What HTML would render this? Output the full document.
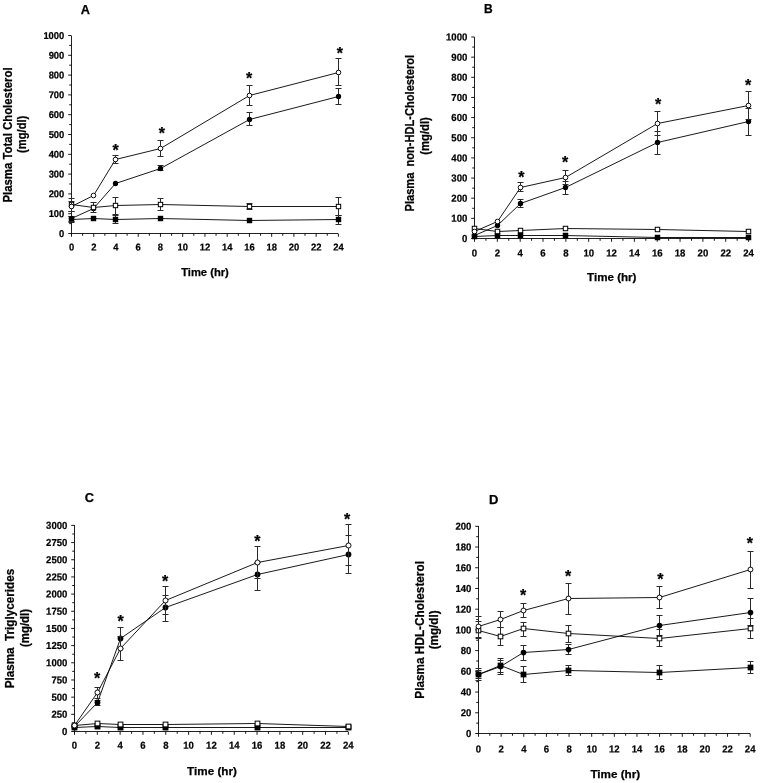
<!DOCTYPE html>
<html lang="en">
<head>
<meta charset="utf-8">
<title>Figure: plasma lipids time course</title>
<style>
html,body{margin:0;padding:0;background:#fff;}
body{width:763px;height:783px;overflow:hidden;}
svg{display:block;}
svg text{font-family:"Liberation Sans", Arial, Helvetica, sans-serif;font-weight:bold;fill:#000;stroke:#000;stroke-width:0.25px;}
svg .tk text{stroke-width:0.22px;}
</style>
</head>
<body>
<svg width="763" height="783" viewBox="0 0 763 783">
<rect width="763" height="783" fill="#fff"/>
<g id="panel-A">
<path d="M71.5 35.5V233.5H338.38" fill="none" stroke="#222" stroke-width="1.0" shape-rendering="crispEdges"/>
<path d="M71.5 233.5h-3.3M71.5 223.6h-2.3M71.5 213.7h-3.3M71.5 203.8h-2.3M71.5 193.9h-3.3M71.5 184h-2.3M71.5 174.1h-3.3M71.5 164.2h-2.3M71.5 154.3h-3.3M71.5 144.4h-2.3M71.5 134.5h-3.3M71.5 124.6h-2.3M71.5 114.7h-3.3M71.5 104.8h-2.3M71.5 94.9h-3.3M71.5 85h-2.3M71.5 75.1h-3.3M71.5 65.2h-2.3M71.5 55.3h-3.3M71.5 45.4h-2.3M71.5 35.5h-3.3M71.5 233.5v3.3M82.62 233.5v2.3M93.74 233.5v3.3M104.86 233.5v2.3M115.98 233.5v3.3M127.1 233.5v2.3M138.22 233.5v3.3M149.34 233.5v2.3M160.46 233.5v3.3M171.58 233.5v2.3M182.7 233.5v3.3M193.82 233.5v2.3M204.94 233.5v3.3M216.06 233.5v2.3M227.18 233.5v3.3M238.3 233.5v2.3M249.42 233.5v3.3M260.54 233.5v2.3M271.66 233.5v3.3M282.78 233.5v2.3M293.9 233.5v3.3M305.02 233.5v2.3M316.14 233.5v3.3M327.26 233.5v2.3M338.38 233.5v3.3" fill="none" stroke="#000" stroke-width="0.9"/>
<g font-size="9.4" text-anchor="end" class="tk">
<text transform="translate(64.3 236.93) rotate(0.05) scale(1 1.06)">0</text>
<text transform="translate(64.3 217.13) rotate(0.05) scale(1 1.06)">100</text>
<text transform="translate(64.3 197.33) rotate(0.05) scale(1 1.06)">200</text>
<text transform="translate(64.3 177.53) rotate(0.05) scale(1 1.06)">300</text>
<text transform="translate(64.3 157.73) rotate(0.05) scale(1 1.06)">400</text>
<text transform="translate(64.3 137.93) rotate(0.05) scale(1 1.06)">500</text>
<text transform="translate(64.3 118.13) rotate(0.05) scale(1 1.06)">600</text>
<text transform="translate(64.3 98.33) rotate(0.05) scale(1 1.06)">700</text>
<text transform="translate(64.3 78.53) rotate(0.05) scale(1 1.06)">800</text>
<text transform="translate(64.3 58.73) rotate(0.05) scale(1 1.06)">900</text>
<text transform="translate(64.3 38.93) rotate(0.05) scale(1 1.06)">1000</text>
</g>
<g font-size="9.4" text-anchor="middle" class="tk">
<text transform="translate(71.5 250.6) rotate(0.05) scale(1 1.06)">0</text>
<text transform="translate(93.74 250.6) rotate(0.05) scale(1 1.06)">2</text>
<text transform="translate(115.98 250.6) rotate(0.05) scale(1 1.06)">4</text>
<text transform="translate(138.22 250.6) rotate(0.05) scale(1 1.06)">6</text>
<text transform="translate(160.46 250.6) rotate(0.05) scale(1 1.06)">8</text>
<text transform="translate(182.7 250.6) rotate(0.05) scale(1 1.06)">10</text>
<text transform="translate(204.94 250.6) rotate(0.05) scale(1 1.06)">12</text>
<text transform="translate(227.18 250.6) rotate(0.05) scale(1 1.06)">14</text>
<text transform="translate(249.42 250.6) rotate(0.05) scale(1 1.06)">16</text>
<text transform="translate(271.66 250.6) rotate(0.05) scale(1 1.06)">18</text>
<text transform="translate(293.9 250.6) rotate(0.05) scale(1 1.06)">20</text>
<text transform="translate(316.14 250.6) rotate(0.05) scale(1 1.06)">22</text>
<text transform="translate(338.38 250.6) rotate(0.05) scale(1 1.06)">24</text>
</g>
<text x="205" y="276.2" font-size="11.2" text-anchor="middle">Time (hr)</text>
<text transform="translate(12.1 135) rotate(-90) scale(0.93 1)" font-size="12.25" text-anchor="middle">Plasma Total Cholesterol</text>
<text transform="translate(26.1 134.3) rotate(-90) scale(0.93 1)" font-size="12.04" text-anchor="middle">(mg/dl)</text>
<text x="80.7" y="13.5" font-size="12.7">A</text>
<path d="M71.5 219.5L93.5 218.5L115.5 219.5L160.5 218.5L249.5 220.5L338.5 219.5" fill="none" stroke="#000" stroke-width="0.9"/>
<path d="M71.5 216V223M68.5 216.5h6M68.5 222.5h6M115.5 215V224M112.5 215.5h6M112.5 223.5h6M338.5 215V225M335.5 215.5h6M335.5 224.5h6" fill="none" stroke="#2a2a2a" stroke-width="1.0"/>
<rect x="68.8" y="216.8" width="5.41" height="5.41" fill="#000"/>
<rect x="90.8" y="215.8" width="5.41" height="5.41" fill="#000"/>
<rect x="112.8" y="216.8" width="5.41" height="5.41" fill="#000"/>
<rect x="157.8" y="215.8" width="5.41" height="5.41" fill="#000"/>
<rect x="246.8" y="217.8" width="5.41" height="5.41" fill="#000"/>
<rect x="335.8" y="216.8" width="5.41" height="5.41" fill="#000"/>
<path d="M71.5 218.5L93.5 208.5L115.5 183.5L160.5 168.5L249.5 119.5L338.5 96.5" fill="none" stroke="#000" stroke-width="0.9"/>
<path d="M71.5 216V222M68.5 216.5h6M68.5 221.5h6M160.5 165V171M157.5 165.5h6M157.5 170.5h6M249.5 112V126M246.5 112.5h6M246.5 125.5h6M338.5 88V105M335.5 88.5h6M335.5 104.5h6" fill="none" stroke="#2a2a2a" stroke-width="1.0"/>
<circle cx="71.5" cy="218.5" r="2.65" fill="#000"/>
<circle cx="93.5" cy="208.5" r="2.65" fill="#000"/>
<circle cx="115.5" cy="183.5" r="2.65" fill="#000"/>
<circle cx="160.5" cy="168.5" r="2.65" fill="#000"/>
<circle cx="249.5" cy="119.5" r="2.65" fill="#000"/>
<circle cx="338.5" cy="96.5" r="2.65" fill="#000"/>
<path d="M71.5 204.5L93.5 207.5L115.5 205.5L160.5 204.5L249.5 206.5L338.5 206.5" fill="none" stroke="#000" stroke-width="0.9"/>
<path d="M71.5 198V212M68.5 198.5h6M68.5 211.5h6M93.5 202V213M90.5 202.5h6M90.5 212.5h6M115.5 197V215M112.5 197.5h6M112.5 214.5h6M160.5 198V211M157.5 198.5h6M157.5 210.5h6M249.5 203V210M246.5 203.5h6M246.5 209.5h6M338.5 197V216M335.5 197.5h6M335.5 215.5h6" fill="none" stroke="#2a2a2a" stroke-width="1.0"/>
<rect x="69.32" y="202.32" width="4.37" height="4.37" fill="#fff" stroke="#000" stroke-width="1"/>
<rect x="91.32" y="205.32" width="4.37" height="4.37" fill="#fff" stroke="#000" stroke-width="1"/>
<rect x="113.32" y="203.32" width="4.37" height="4.37" fill="#fff" stroke="#000" stroke-width="1"/>
<rect x="158.32" y="202.32" width="4.37" height="4.37" fill="#fff" stroke="#000" stroke-width="1"/>
<rect x="247.32" y="204.32" width="4.37" height="4.37" fill="#fff" stroke="#000" stroke-width="1"/>
<rect x="336.32" y="204.32" width="4.37" height="4.37" fill="#fff" stroke="#000" stroke-width="1"/>
<path d="M71.5 206.5L93.5 195.5L115.5 159.5L160.5 148.5L249.5 95.5L338.5 72.5" fill="none" stroke="#000" stroke-width="0.9"/>
<path d="M71.5 201V212M68.5 201.5h6M68.5 211.5h6M115.5 155V164M112.5 155.5h6M112.5 163.5h6M160.5 140V157M157.5 140.5h6M157.5 156.5h6M249.5 85V106M246.5 85.5h6M246.5 105.5h6M338.5 58V86M335.5 58.5h6M335.5 85.5h6" fill="none" stroke="#2a2a2a" stroke-width="1.0"/>
<rect x="69.26" y="204.26" width="4.47" height="4.47" rx="1.97" fill="#fff" stroke="#000" stroke-width="0.95"/>
<rect x="91.26" y="193.26" width="4.47" height="4.47" rx="1.97" fill="#fff" stroke="#000" stroke-width="0.95"/>
<rect x="113.26" y="157.26" width="4.47" height="4.47" rx="1.97" fill="#fff" stroke="#000" stroke-width="0.95"/>
<rect x="158.26" y="146.26" width="4.47" height="4.47" rx="1.97" fill="#fff" stroke="#000" stroke-width="0.95"/>
<rect x="247.26" y="93.26" width="4.47" height="4.47" rx="1.97" fill="#fff" stroke="#000" stroke-width="0.95"/>
<rect x="336.26" y="70.26" width="4.47" height="4.47" rx="1.97" fill="#fff" stroke="#000" stroke-width="0.95"/>
<g font-size="16" text-anchor="middle">
<text x="115.6" y="156">*</text>
<text x="161.8" y="139.1">*</text>
<text x="249.2" y="83.9">*</text>
<text x="339.9" y="59.4">*</text>
</g>
</g>
<g id="panel-B">
<path d="M474.5 37V238.5H748.58" fill="none" stroke="#222" stroke-width="1.0" shape-rendering="crispEdges"/>
<path d="M474.5 238.5h-3.3M474.5 228.43h-2.3M474.5 218.35h-3.3M474.5 208.28h-2.3M474.5 198.2h-3.3M474.5 188.12h-2.3M474.5 178.05h-3.3M474.5 167.97h-2.3M474.5 157.9h-3.3M474.5 147.82h-2.3M474.5 137.75h-3.3M474.5 127.67h-2.3M474.5 117.6h-3.3M474.5 107.53h-2.3M474.5 97.45h-3.3M474.5 87.38h-2.3M474.5 77.3h-3.3M474.5 67.22h-2.3M474.5 57.15h-3.3M474.5 47.07h-2.3M474.5 37h-3.3M474.5 238.5v3.3M485.92 238.5v2.3M497.34 238.5v3.3M508.76 238.5v2.3M520.18 238.5v3.3M531.6 238.5v2.3M543.02 238.5v3.3M554.44 238.5v2.3M565.86 238.5v3.3M577.28 238.5v2.3M588.7 238.5v3.3M600.12 238.5v2.3M611.54 238.5v3.3M622.96 238.5v2.3M634.38 238.5v3.3M645.8 238.5v2.3M657.22 238.5v3.3M668.64 238.5v2.3M680.06 238.5v3.3M691.48 238.5v2.3M702.9 238.5v3.3M714.32 238.5v2.3M725.74 238.5v3.3M737.16 238.5v2.3M748.58 238.5v3.3" fill="none" stroke="#000" stroke-width="0.9"/>
<g font-size="9.6" text-anchor="end" class="tk">
<text transform="translate(467.3 242) rotate(0.05) scale(1 1.06)">0</text>
<text transform="translate(467.3 221.85) rotate(0.05) scale(1 1.06)">100</text>
<text transform="translate(467.3 201.7) rotate(0.05) scale(1 1.06)">200</text>
<text transform="translate(467.3 181.55) rotate(0.05) scale(1 1.06)">300</text>
<text transform="translate(467.3 161.4) rotate(0.05) scale(1 1.06)">400</text>
<text transform="translate(467.3 141.25) rotate(0.05) scale(1 1.06)">500</text>
<text transform="translate(467.3 121.1) rotate(0.05) scale(1 1.06)">600</text>
<text transform="translate(467.3 100.95) rotate(0.05) scale(1 1.06)">700</text>
<text transform="translate(467.3 80.8) rotate(0.05) scale(1 1.06)">800</text>
<text transform="translate(467.3 60.65) rotate(0.05) scale(1 1.06)">900</text>
<text transform="translate(467.3 40.5) rotate(0.05) scale(1 1.06)">1000</text>
</g>
<g font-size="9.6" text-anchor="middle" class="tk">
<text transform="translate(474.5 256.6) rotate(0.05) scale(1 1.06)">0</text>
<text transform="translate(497.34 256.6) rotate(0.05) scale(1 1.06)">2</text>
<text transform="translate(520.18 256.6) rotate(0.05) scale(1 1.06)">4</text>
<text transform="translate(543.02 256.6) rotate(0.05) scale(1 1.06)">6</text>
<text transform="translate(565.86 256.6) rotate(0.05) scale(1 1.06)">8</text>
<text transform="translate(588.7 256.6) rotate(0.05) scale(1 1.06)">10</text>
<text transform="translate(611.54 256.6) rotate(0.05) scale(1 1.06)">12</text>
<text transform="translate(634.38 256.6) rotate(0.05) scale(1 1.06)">14</text>
<text transform="translate(657.22 256.6) rotate(0.05) scale(1 1.06)">16</text>
<text transform="translate(680.06 256.6) rotate(0.05) scale(1 1.06)">18</text>
<text transform="translate(702.9 256.6) rotate(0.05) scale(1 1.06)">20</text>
<text transform="translate(725.74 256.6) rotate(0.05) scale(1 1.06)">22</text>
<text transform="translate(748.58 256.6) rotate(0.05) scale(1 1.06)">24</text>
</g>
<text x="611.8" y="281.2" font-size="11.6" text-anchor="middle">Time (hr)</text>
<text transform="translate(414 133.2) rotate(-90) scale(0.93 1)" font-size="11.93" text-anchor="middle">Plasma  non-HDL-Cholesterol</text>
<text transform="translate(429.3 136) rotate(-90) scale(0.93 1)" font-size="12.15" text-anchor="middle">(mg/dl)</text>
<text x="484" y="13.2" font-size="12">B</text>
<path d="M474.5 236.5L497.5 235.5L520.5 235.5L565.5 235.5L657.5 237.5L748.5 237.5" fill="none" stroke="#000" stroke-width="0.9"/>
<rect x="471.74" y="233.74" width="5.51" height="5.51" fill="#000"/>
<rect x="494.74" y="232.74" width="5.51" height="5.51" fill="#000"/>
<rect x="517.74" y="232.74" width="5.51" height="5.51" fill="#000"/>
<rect x="562.74" y="232.74" width="5.51" height="5.51" fill="#000"/>
<rect x="654.74" y="234.74" width="5.51" height="5.51" fill="#000"/>
<rect x="745.74" y="234.74" width="5.51" height="5.51" fill="#000"/>
<path d="M474.5 235.5L497.5 225.5L520.5 203.5L565.5 187.5L657.5 142.5L748.5 121.5" fill="none" stroke="#000" stroke-width="0.9"/>
<path d="M520.5 199V208M517.5 199.5h6M517.5 207.5h6M565.5 181V195M562.5 181.5h6M562.5 194.5h6M657.5 131V155M654.5 131.5h6M654.5 154.5h6M748.5 108V136M745.5 108.5h6M745.5 135.5h6" fill="none" stroke="#2a2a2a" stroke-width="1.0"/>
<circle cx="474.5" cy="235.5" r="2.7" fill="#000"/>
<circle cx="497.5" cy="225.5" r="2.7" fill="#000"/>
<circle cx="520.5" cy="203.5" r="2.7" fill="#000"/>
<circle cx="565.5" cy="187.5" r="2.7" fill="#000"/>
<circle cx="657.5" cy="142.5" r="2.7" fill="#000"/>
<circle cx="748.5" cy="121.5" r="2.7" fill="#000"/>
<path d="M474.5 228.5L497.5 231.5L520.5 230.5L565.5 228.5L657.5 229.5L748.5 231.5" fill="none" stroke="#000" stroke-width="0.9"/>
<rect x="472.27" y="226.27" width="4.45" height="4.45" fill="#fff" stroke="#000" stroke-width="1"/>
<rect x="495.27" y="229.27" width="4.45" height="4.45" fill="#fff" stroke="#000" stroke-width="1"/>
<rect x="518.27" y="228.27" width="4.45" height="4.45" fill="#fff" stroke="#000" stroke-width="1"/>
<rect x="563.27" y="226.27" width="4.45" height="4.45" fill="#fff" stroke="#000" stroke-width="1"/>
<rect x="655.27" y="227.27" width="4.45" height="4.45" fill="#fff" stroke="#000" stroke-width="1"/>
<rect x="746.27" y="229.27" width="4.45" height="4.45" fill="#fff" stroke="#000" stroke-width="1"/>
<path d="M474.5 231.5L497.5 221.5L520.5 187.5L565.5 177.5L657.5 123.5L748.5 105.5" fill="none" stroke="#000" stroke-width="0.9"/>
<path d="M520.5 182V192M517.5 182.5h6M517.5 191.5h6M565.5 170V185M562.5 170.5h6M562.5 184.5h6M657.5 111V136M654.5 111.5h6M654.5 135.5h6M748.5 91V120M745.5 91.5h6M745.5 119.5h6" fill="none" stroke="#2a2a2a" stroke-width="1.0"/>
<rect x="472.22" y="229.22" width="4.56" height="4.56" rx="2.01" fill="#fff" stroke="#000" stroke-width="0.95"/>
<rect x="495.22" y="219.22" width="4.56" height="4.56" rx="2.01" fill="#fff" stroke="#000" stroke-width="0.95"/>
<rect x="518.22" y="185.22" width="4.56" height="4.56" rx="2.01" fill="#fff" stroke="#000" stroke-width="0.95"/>
<rect x="563.22" y="175.22" width="4.56" height="4.56" rx="2.01" fill="#fff" stroke="#000" stroke-width="0.95"/>
<rect x="655.22" y="121.22" width="4.56" height="4.56" rx="2.01" fill="#fff" stroke="#000" stroke-width="0.95"/>
<rect x="746.22" y="103.22" width="4.56" height="4.56" rx="2.01" fill="#fff" stroke="#000" stroke-width="0.95"/>
<g font-size="16" text-anchor="middle">
<text x="521.3" y="183.2">*</text>
<text x="565.1" y="167.5">*</text>
<text x="658" y="109.5">*</text>
<text x="748" y="90.5">*</text>
</g>
</g>
<g id="panel-C">
<path d="M74.5 525.4V731.5H348.34" fill="none" stroke="#222" stroke-width="1.0" shape-rendering="crispEdges"/>
<path d="M74.5 731.5h-3.3M74.5 722.91h-2.3M74.5 714.33h-3.3M74.5 705.74h-2.3M74.5 697.15h-3.3M74.5 688.56h-2.3M74.5 679.98h-3.3M74.5 671.39h-2.3M74.5 662.8h-3.3M74.5 654.21h-2.3M74.5 645.62h-3.3M74.5 637.04h-2.3M74.5 628.45h-3.3M74.5 619.86h-2.3M74.5 611.27h-3.3M74.5 602.69h-2.3M74.5 594.1h-3.3M74.5 585.51h-2.3M74.5 576.92h-3.3M74.5 568.34h-2.3M74.5 559.75h-3.3M74.5 551.16h-2.3M74.5 542.57h-3.3M74.5 533.99h-2.3M74.5 525.4h-3.3M74.5 731.5v3.3M85.91 731.5v2.3M97.32 731.5v3.3M108.73 731.5v2.3M120.14 731.5v3.3M131.55 731.5v2.3M142.96 731.5v3.3M154.37 731.5v2.3M165.78 731.5v3.3M177.19 731.5v2.3M188.6 731.5v3.3M200.01 731.5v2.3M211.42 731.5v3.3M222.83 731.5v2.3M234.24 731.5v3.3M245.65 731.5v2.3M257.06 731.5v3.3M268.47 731.5v2.3M279.88 731.5v3.3M291.29 731.5v2.3M302.7 731.5v3.3M314.11 731.5v2.3M325.52 731.5v3.3M336.93 731.5v2.3M348.34 731.5v3.3" fill="none" stroke="#000" stroke-width="0.9"/>
<g font-size="9.55" text-anchor="end" class="tk">
<text transform="translate(67.3 734.99) rotate(0.05) scale(1 1.06)">0</text>
<text transform="translate(67.3 717.81) rotate(0.05) scale(1 1.06)">250</text>
<text transform="translate(67.3 700.64) rotate(0.05) scale(1 1.06)">500</text>
<text transform="translate(67.3 683.46) rotate(0.05) scale(1 1.06)">750</text>
<text transform="translate(67.3 666.29) rotate(0.05) scale(1 1.06)">1000</text>
<text transform="translate(67.3 649.11) rotate(0.05) scale(1 1.06)">1250</text>
<text transform="translate(67.3 631.94) rotate(0.05) scale(1 1.06)">1500</text>
<text transform="translate(67.3 614.76) rotate(0.05) scale(1 1.06)">1750</text>
<text transform="translate(67.3 597.59) rotate(0.05) scale(1 1.06)">2000</text>
<text transform="translate(67.3 580.41) rotate(0.05) scale(1 1.06)">2250</text>
<text transform="translate(67.3 563.24) rotate(0.05) scale(1 1.06)">2500</text>
<text transform="translate(67.3 546.06) rotate(0.05) scale(1 1.06)">2750</text>
<text transform="translate(67.3 528.89) rotate(0.05) scale(1 1.06)">3000</text>
</g>
<g font-size="9.55" text-anchor="middle" class="tk">
<text transform="translate(74.5 748.8) rotate(0.05) scale(1 1.06)">0</text>
<text transform="translate(97.32 748.8) rotate(0.05) scale(1 1.06)">2</text>
<text transform="translate(120.14 748.8) rotate(0.05) scale(1 1.06)">4</text>
<text transform="translate(142.96 748.8) rotate(0.05) scale(1 1.06)">6</text>
<text transform="translate(165.78 748.8) rotate(0.05) scale(1 1.06)">8</text>
<text transform="translate(188.6 748.8) rotate(0.05) scale(1 1.06)">10</text>
<text transform="translate(211.42 748.8) rotate(0.05) scale(1 1.06)">12</text>
<text transform="translate(234.24 748.8) rotate(0.05) scale(1 1.06)">14</text>
<text transform="translate(257.06 748.8) rotate(0.05) scale(1 1.06)">16</text>
<text transform="translate(279.88 748.8) rotate(0.05) scale(1 1.06)">18</text>
<text transform="translate(302.7 748.8) rotate(0.05) scale(1 1.06)">20</text>
<text transform="translate(325.52 748.8) rotate(0.05) scale(1 1.06)">22</text>
<text transform="translate(348.34 748.8) rotate(0.05) scale(1 1.06)">24</text>
</g>
<text x="212" y="774.7" font-size="11.7" text-anchor="middle">Time (hr)</text>
<text transform="translate(14.2 628.6) rotate(-90) scale(0.93 1)" font-size="12.58" text-anchor="middle">Plasma  Triglycerides</text>
<text transform="translate(29.4 628) rotate(-90) scale(0.93 1)" font-size="12.25" text-anchor="middle">(mg/dl)</text>
<text x="84.8" y="501.6" font-size="12.8">C</text>
<path d="M74.5 727.5L97.5 726.5L120.5 727.5L165.5 727.5L257.5 727.5L348.5 727.5" fill="none" stroke="#000" stroke-width="0.9"/>
<rect x="71.56" y="724.56" width="5.88" height="5.88" fill="#000"/>
<rect x="94.56" y="723.56" width="5.88" height="5.88" fill="#000"/>
<rect x="117.56" y="724.56" width="5.88" height="5.88" fill="#000"/>
<rect x="162.56" y="724.56" width="5.88" height="5.88" fill="#000"/>
<rect x="254.56" y="724.56" width="5.88" height="5.88" fill="#000"/>
<rect x="345.56" y="724.56" width="5.88" height="5.88" fill="#000"/>
<path d="M74.5 726.5L97.5 702.5L120.5 638.5L165.5 607.5L257.5 574.5L348.5 554.5" fill="none" stroke="#000" stroke-width="0.9"/>
<path d="M97.5 700V706M94.5 700.5h6M94.5 705.5h6M120.5 627V649M117.5 627.5h6M117.5 648.5h6M165.5 595V622M162.5 595.5h6M162.5 621.5h6M257.5 562V591M254.5 562.5h6M254.5 590.5h6M348.5 535V574M345.5 535.5h6M345.5 573.5h6" fill="none" stroke="#2a2a2a" stroke-width="1.0"/>
<circle cx="74.5" cy="726.5" r="2.88" fill="#000"/>
<circle cx="97.5" cy="702.5" r="2.88" fill="#000"/>
<circle cx="120.5" cy="638.5" r="2.88" fill="#000"/>
<circle cx="165.5" cy="607.5" r="2.88" fill="#000"/>
<circle cx="257.5" cy="574.5" r="2.88" fill="#000"/>
<circle cx="348.5" cy="554.5" r="2.88" fill="#000"/>
<path d="M74.5 725.5L97.5 723.5L120.5 724.5L165.5 724.5L257.5 723.5L348.5 726.5" fill="none" stroke="#000" stroke-width="0.9"/>
<rect x="72.13" y="723.13" width="4.75" height="4.75" fill="#fff" stroke="#000" stroke-width="1"/>
<rect x="95.13" y="721.13" width="4.75" height="4.75" fill="#fff" stroke="#000" stroke-width="1"/>
<rect x="118.13" y="722.13" width="4.75" height="4.75" fill="#fff" stroke="#000" stroke-width="1"/>
<rect x="163.13" y="722.13" width="4.75" height="4.75" fill="#fff" stroke="#000" stroke-width="1"/>
<rect x="255.13" y="721.13" width="4.75" height="4.75" fill="#fff" stroke="#000" stroke-width="1"/>
<rect x="346.13" y="724.13" width="4.75" height="4.75" fill="#fff" stroke="#000" stroke-width="1"/>
<path d="M74.5 725.5L97.5 692.5L120.5 648.5L165.5 600.5L257.5 562.5L348.5 545.5" fill="none" stroke="#000" stroke-width="0.9"/>
<path d="M97.5 687V699M94.5 687.5h6M94.5 698.5h6M120.5 636V661M117.5 636.5h6M117.5 660.5h6M165.5 586V615M162.5 586.5h6M162.5 614.5h6M257.5 546V579M254.5 546.5h6M254.5 578.5h6M348.5 524V566M345.5 524.5h6M345.5 565.5h6" fill="none" stroke="#2a2a2a" stroke-width="1.0"/>
<rect x="72.07" y="723.07" width="4.86" height="4.86" rx="2.14" fill="#fff" stroke="#000" stroke-width="0.95"/>
<rect x="95.07" y="690.07" width="4.86" height="4.86" rx="2.14" fill="#fff" stroke="#000" stroke-width="0.95"/>
<rect x="118.07" y="646.07" width="4.86" height="4.86" rx="2.14" fill="#fff" stroke="#000" stroke-width="0.95"/>
<rect x="163.07" y="598.07" width="4.86" height="4.86" rx="2.14" fill="#fff" stroke="#000" stroke-width="0.95"/>
<rect x="255.07" y="560.07" width="4.86" height="4.86" rx="2.14" fill="#fff" stroke="#000" stroke-width="0.95"/>
<rect x="346.07" y="543.07" width="4.86" height="4.86" rx="2.14" fill="#fff" stroke="#000" stroke-width="0.95"/>
<g font-size="16" text-anchor="middle">
<text x="97" y="684.2">*</text>
<text x="120.6" y="627.4">*</text>
<text x="165.2" y="586.6">*</text>
<text x="257.3" y="546.7">*</text>
<text x="347.2" y="524.7">*</text>
</g>
</g>
<g id="panel-D">
<path d="M478.5 526.3V733.5H750.18" fill="none" stroke="#222" stroke-width="1.0" shape-rendering="crispEdges"/>
<path d="M478.5 733.5h-3.3M478.5 723.14h-2.3M478.5 712.78h-3.3M478.5 702.42h-2.3M478.5 692.06h-3.3M478.5 681.7h-2.3M478.5 671.34h-3.3M478.5 660.98h-2.3M478.5 650.62h-3.3M478.5 640.26h-2.3M478.5 629.9h-3.3M478.5 619.54h-2.3M478.5 609.18h-3.3M478.5 598.82h-2.3M478.5 588.46h-3.3M478.5 578.1h-2.3M478.5 567.74h-3.3M478.5 557.38h-2.3M478.5 547.02h-3.3M478.5 536.66h-2.3M478.5 526.3h-3.3M478.5 733.5v3.3M489.82 733.5v2.3M501.14 733.5v3.3M512.46 733.5v2.3M523.78 733.5v3.3M535.1 733.5v2.3M546.42 733.5v3.3M557.74 733.5v2.3M569.06 733.5v3.3M580.38 733.5v2.3M591.7 733.5v3.3M603.02 733.5v2.3M614.34 733.5v3.3M625.66 733.5v2.3M636.98 733.5v3.3M648.3 733.5v2.3M659.62 733.5v3.3M670.94 733.5v2.3M682.26 733.5v3.3M693.58 733.5v2.3M704.9 733.5v3.3M716.22 733.5v2.3M727.54 733.5v3.3M738.86 733.5v2.3M750.18 733.5v3.3" fill="none" stroke="#000" stroke-width="0.9"/>
<g font-size="9.55" text-anchor="end" class="tk">
<text transform="translate(471.3 736.99) rotate(0.05) scale(1 1.06)">0</text>
<text transform="translate(471.3 716.27) rotate(0.05) scale(1 1.06)">20</text>
<text transform="translate(471.3 695.55) rotate(0.05) scale(1 1.06)">40</text>
<text transform="translate(471.3 674.83) rotate(0.05) scale(1 1.06)">60</text>
<text transform="translate(471.3 654.11) rotate(0.05) scale(1 1.06)">80</text>
<text transform="translate(471.3 633.39) rotate(0.05) scale(1 1.06)">100</text>
<text transform="translate(471.3 612.67) rotate(0.05) scale(1 1.06)">120</text>
<text transform="translate(471.3 591.95) rotate(0.05) scale(1 1.06)">140</text>
<text transform="translate(471.3 571.23) rotate(0.05) scale(1 1.06)">160</text>
<text transform="translate(471.3 550.51) rotate(0.05) scale(1 1.06)">180</text>
<text transform="translate(471.3 529.79) rotate(0.05) scale(1 1.06)">200</text>
</g>
<g font-size="9.55" text-anchor="middle" class="tk">
<text transform="translate(478.5 752.4) rotate(0.05) scale(1 1.06)">0</text>
<text transform="translate(501.14 752.4) rotate(0.05) scale(1 1.06)">2</text>
<text transform="translate(523.78 752.4) rotate(0.05) scale(1 1.06)">4</text>
<text transform="translate(546.42 752.4) rotate(0.05) scale(1 1.06)">6</text>
<text transform="translate(569.06 752.4) rotate(0.05) scale(1 1.06)">8</text>
<text transform="translate(591.7 752.4) rotate(0.05) scale(1 1.06)">10</text>
<text transform="translate(614.34 752.4) rotate(0.05) scale(1 1.06)">12</text>
<text transform="translate(636.98 752.4) rotate(0.05) scale(1 1.06)">14</text>
<text transform="translate(659.62 752.4) rotate(0.05) scale(1 1.06)">16</text>
<text transform="translate(682.26 752.4) rotate(0.05) scale(1 1.06)">18</text>
<text transform="translate(704.9 752.4) rotate(0.05) scale(1 1.06)">20</text>
<text transform="translate(727.54 752.4) rotate(0.05) scale(1 1.06)">22</text>
<text transform="translate(750.18 752.4) rotate(0.05) scale(1 1.06)">24</text>
</g>
<text x="615.3" y="778.3" font-size="11.7" text-anchor="middle">Time (hr)</text>
<text transform="translate(424.4 629.9) rotate(-90) scale(0.93 1)" font-size="12.69" text-anchor="middle">Plasma HDL-Cholesterol</text>
<text transform="translate(438 629.9) rotate(-90) scale(0.93 1)" font-size="12.58" text-anchor="middle">(mg/dl)</text>
<text x="489" y="503.7" font-size="13">D</text>
<path d="M478.5 674.5L500.5 665.5L523.5 674.5L568.5 670.5L659.5 672.5L750.5 667.5" fill="none" stroke="#000" stroke-width="0.9"/>
<path d="M478.5 668V681M475.5 668.5h6M475.5 680.5h6M500.5 660V673M497.5 660.5h6M497.5 672.5h6M523.5 666V683M520.5 666.5h6M520.5 682.5h6M568.5 665V676M565.5 665.5h6M565.5 675.5h6M659.5 665V680M656.5 665.5h6M656.5 679.5h6M750.5 661V674M747.5 661.5h6M747.5 673.5h6" fill="none" stroke="#2a2a2a" stroke-width="1.0"/>
<rect x="475.64" y="671.64" width="5.72" height="5.72" fill="#000"/>
<rect x="497.64" y="662.64" width="5.72" height="5.72" fill="#000"/>
<rect x="520.64" y="671.64" width="5.72" height="5.72" fill="#000"/>
<rect x="565.64" y="667.64" width="5.72" height="5.72" fill="#000"/>
<rect x="656.64" y="669.64" width="5.72" height="5.72" fill="#000"/>
<rect x="747.64" y="664.64" width="5.72" height="5.72" fill="#000"/>
<path d="M478.5 674.5L500.5 666.5L523.5 652.5L568.5 649.5L659.5 625.5L750.5 612.5" fill="none" stroke="#000" stroke-width="0.9"/>
<path d="M478.5 670V679M475.5 670.5h6M475.5 678.5h6M500.5 658V675M497.5 658.5h6M497.5 674.5h6M523.5 645V661M520.5 645.5h6M520.5 660.5h6M568.5 644V655M565.5 644.5h6M565.5 654.5h6M659.5 615V636M656.5 615.5h6M656.5 635.5h6M750.5 598V626M747.5 598.5h6M747.5 625.5h6" fill="none" stroke="#2a2a2a" stroke-width="1.0"/>
<circle cx="478.5" cy="674.5" r="2.81" fill="#000"/>
<circle cx="500.5" cy="666.5" r="2.81" fill="#000"/>
<circle cx="523.5" cy="652.5" r="2.81" fill="#000"/>
<circle cx="568.5" cy="649.5" r="2.81" fill="#000"/>
<circle cx="659.5" cy="625.5" r="2.81" fill="#000"/>
<circle cx="750.5" cy="612.5" r="2.81" fill="#000"/>
<path d="M478.5 630.5L500.5 636.5L523.5 628.5L568.5 633.5L659.5 638.5L750.5 628.5" fill="none" stroke="#000" stroke-width="0.9"/>
<path d="M478.5 621V639M475.5 621.5h6M475.5 638.5h6M500.5 627V646M497.5 627.5h6M497.5 645.5h6M523.5 622V637M520.5 622.5h6M520.5 636.5h6M568.5 625V643M565.5 625.5h6M565.5 642.5h6M659.5 629V647M656.5 629.5h6M656.5 646.5h6M750.5 618V639M747.5 618.5h6M747.5 638.5h6" fill="none" stroke="#2a2a2a" stroke-width="1.0"/>
<rect x="476.19" y="628.19" width="4.62" height="4.62" fill="#fff" stroke="#000" stroke-width="1"/>
<rect x="498.19" y="634.19" width="4.62" height="4.62" fill="#fff" stroke="#000" stroke-width="1"/>
<rect x="521.19" y="626.19" width="4.62" height="4.62" fill="#fff" stroke="#000" stroke-width="1"/>
<rect x="566.19" y="631.19" width="4.62" height="4.62" fill="#fff" stroke="#000" stroke-width="1"/>
<rect x="657.19" y="636.19" width="4.62" height="4.62" fill="#fff" stroke="#000" stroke-width="1"/>
<rect x="748.19" y="626.19" width="4.62" height="4.62" fill="#fff" stroke="#000" stroke-width="1"/>
<path d="M478.5 626.5L500.5 619.5L523.5 610.5L568.5 598.5L659.5 597.5L750.5 569.5" fill="none" stroke="#000" stroke-width="0.9"/>
<path d="M478.5 616V638M475.5 616.5h6M475.5 637.5h6M500.5 611V628M497.5 611.5h6M497.5 627.5h6M523.5 603V618M520.5 603.5h6M520.5 617.5h6M568.5 583V615M565.5 583.5h6M565.5 614.5h6M659.5 586V609M656.5 586.5h6M656.5 608.5h6M750.5 551V589M747.5 551.5h6M747.5 588.5h6" fill="none" stroke="#2a2a2a" stroke-width="1.0"/>
<rect x="476.13" y="624.13" width="4.73" height="4.73" rx="2.08" fill="#fff" stroke="#000" stroke-width="0.95"/>
<rect x="498.13" y="617.13" width="4.73" height="4.73" rx="2.08" fill="#fff" stroke="#000" stroke-width="0.95"/>
<rect x="521.13" y="608.13" width="4.73" height="4.73" rx="2.08" fill="#fff" stroke="#000" stroke-width="0.95"/>
<rect x="566.13" y="596.13" width="4.73" height="4.73" rx="2.08" fill="#fff" stroke="#000" stroke-width="0.95"/>
<rect x="657.13" y="595.13" width="4.73" height="4.73" rx="2.08" fill="#fff" stroke="#000" stroke-width="0.95"/>
<rect x="748.13" y="567.13" width="4.73" height="4.73" rx="2.08" fill="#fff" stroke="#000" stroke-width="0.95"/>
<g font-size="16" text-anchor="middle">
<text x="523.1" y="600.8">*</text>
<text x="568.2" y="581.7">*</text>
<text x="660.4" y="585.4">*</text>
<text x="749.9" y="549.4">*</text>
</g>
</g>
</svg>
</body>
</html>
